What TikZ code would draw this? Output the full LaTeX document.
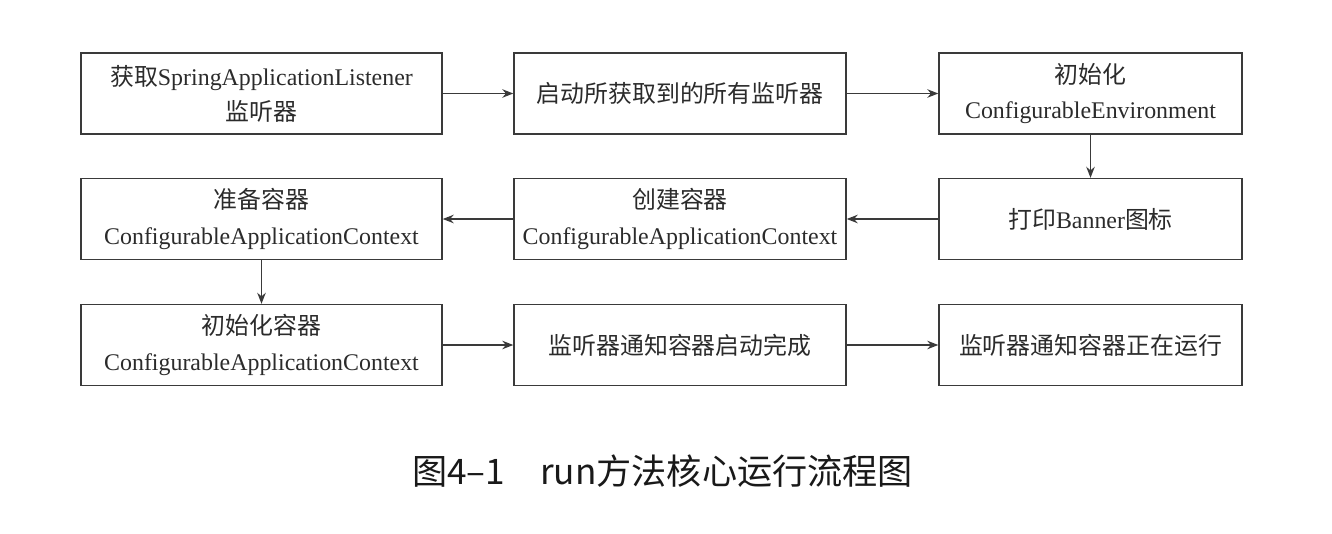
\documentclass[tikz,border=0pt]{standalone}
\usepackage{fontspec}
\setmainfont{Liberation Serif}
\newfontfamily\cjk{Noto Sans CJK SC}
\usetikzlibrary{arrows.meta}
\definecolor{boxline}{HTML}{3A3A3A}
\definecolor{boxtext}{HTML}{2B2B2B}

\begin{document}
\begin{tikzpicture}[
  stepbox/.style={draw=boxline, line width=0.8pt, minimum height=1.62cm, inner sep=0pt,
    align=center, text=boxtext, font=\fontsize{13.6}{20}\selectfont},
  flow/.style={draw=boxline, line width=0.75pt, -{Stealth[length=2.2mm,width=1.7mm]}}
]
\useasboundingbox (0,0) rectangle (26.64,-10.68);
\node[stepbox, minimum width=7.22cm] (getlist) at (5.23,-1.87) {{\cjk 获取}SpringApplicationListener\\{\cjk 监听器}};
\node[stepbox, minimum width=6.64cm] (startlist) at (13.6,-1.87) {{\cjk 启动所获取到的所有监听器}};
\node[stepbox, minimum width=6.06cm] (initenv) at (21.81,-1.87) {{\cjk 初始化}\\ConfigurableEnvironment};
\node[stepbox, minimum width=6.06cm] (banner) at (21.81,-4.38) {{\cjk 打印}Banner{\cjk 图标}};
\node[stepbox, minimum width=6.64cm] (create) at (13.6,-4.38) {{\cjk 创建容器}\\ConfigurableApplicationContext};
\node[stepbox, minimum width=7.22cm] (prepare) at (5.23,-4.38) {{\cjk 准备容器}\\ConfigurableApplicationContext};
\node[stepbox, minimum width=7.22cm] (initctx) at (5.23,-6.9) {{\cjk 初始化容器}\\ConfigurableApplicationContext};
\node[stepbox, minimum width=6.64cm] (started) at (13.6,-6.9) {{\cjk 监听器通知容器启动完成}};
\node[stepbox, minimum width=6.06cm] (running) at (21.81,-6.9) {{\cjk 监听器通知容器正在运行}};
\draw[flow] (getlist) -- (startlist);
\draw[flow] (startlist) -- (initenv);
\draw[flow] (initenv) -- (banner);
\draw[flow] (banner) -- (create);
\draw[flow] (create) -- (prepare);
\draw[flow] (prepare) -- (initctx);
\draw[flow] (initctx) -- (started);
\draw[flow] (started) -- (running);
\node[font=\cjk\fontsize{20}{24}\selectfont, text=black!90] (caption) at (13.25,-9.42) {图4–1\quad run方法核心运行流程图};
\end{tikzpicture}
\end{document}
